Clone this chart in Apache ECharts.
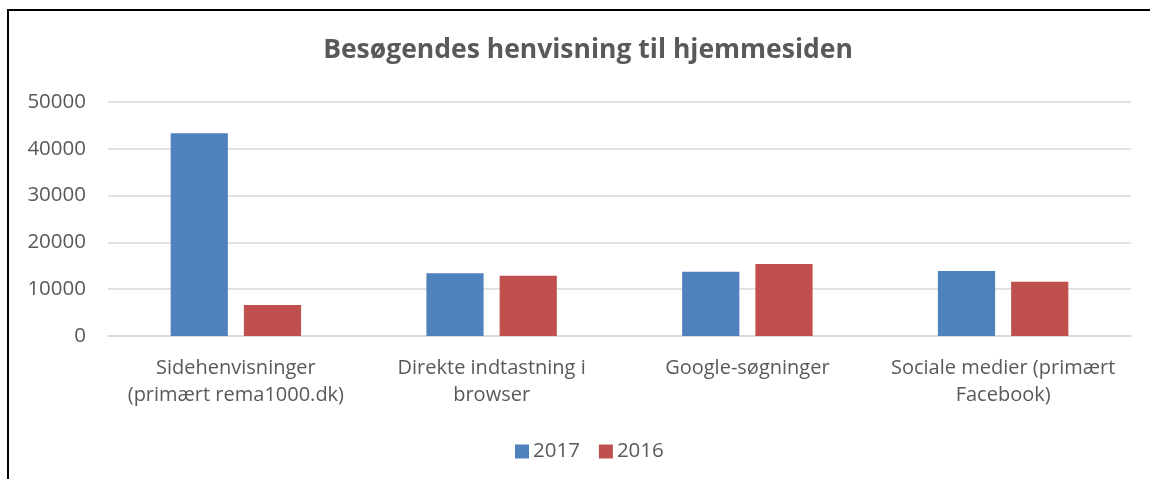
<!DOCTYPE html>
<html>
<head>
<meta charset="utf-8">
<script src="https://cdn.jsdelivr.net/npm/echarts@6/dist/echarts.min.js"></script>
<style>
  html, body { margin: 0; padding: 0; background: #fff; }
  #frame {
    position: absolute;
    left: 7px;
    top: 9px;
    width: 1143px;
    height: 470px;
    border-top: 2px solid #000;
    border-left: 2px solid #000;
    box-sizing: border-box;
  }
  #myChart { width: 1150px; height: 479px; position: absolute; left: 0; top: 0; }
</style>
</head>
<body>
<div id="frame"></div>
<div id="myChart"></div>
<script>
// kategorier og værdier
const categories = [
  'Sidehenvisninger\n(primært rema1000.dk)',
  'Direkte indtastning i\nbrowser',
  'Google-søgninger',
  'Sociale medier (primært\nFacebook)',
]
const values2017 = [43300, 13400, 13750, 13900]
const values2016 = [6600, 12900, 15400, 11600]
const yTicks = [0, 10000, 20000, 30000, 40000, 50000]

const font = '"Open Sans", sans-serif'
const textColor = '#595959'

let myChart = echarts.init(document.getElementById('myChart'))
myChart.setOption({
  animation: false,
  title: {
    text: 'Besøgendes henvisning til hjemmesiden',
    left: 583,
    textAlign: 'center',
    top: 32,
    textStyle: {
      fontFamily: font,
      fontSize: 26.5,
      fontWeight: 'bold',
      color: textColor,
    },
  },
  legend: {
    data: ['2017', '2016'],
    left: 510,
    top: 436,
    itemWidth: 14,
    itemHeight: 14,
    itemGap: 19,
    icon: 'rect',
    textStyle: { fontFamily: font, fontSize: 20.5, color: textColor, padding: [0, 0, 0, -1] },
  },
  grid: {
    left: 108,
    right: 19,
    top: 102,
    bottom: 143,
  },
  xAxis: {
    type: 'category',
    data: categories,
    axisLine: { lineStyle: { color: '#D9D9D9', width: 1.5 } },
    axisTick: { show: false },
    axisLabel: {
      fontFamily: font,
      fontSize: 20,
      color: textColor,
      lineHeight: 27,
      margin: 19,
      interval: 0,
    },
  },
  yAxis: {
    type: 'value',
    min: yTicks[0],
    max: yTicks[yTicks.length - 1],
    interval: 10000,
    axisLine: { show: false },
    axisTick: { show: false },
    splitLine: { lineStyle: { color: '#D9D9D9', width: 1.5 } },
    axisLabel: {
      fontFamily: font,
      fontSize: 20.5,
      color: textColor,
      margin: 22,
      formatter: (v) => String(v),
    },
  },
  series: [
    {
      name: '2017',
      type: 'bar',
      data: values2017,
      barGap: '28%',
      barCategoryGap: '49%',
      itemStyle: { color: '#4F81BD' },
    },
    {
      name: '2016',
      type: 'bar',
      data: values2016,
      itemStyle: { color: '#C0504D' },
    },
  ],
})
</script>
</body>
</html>
